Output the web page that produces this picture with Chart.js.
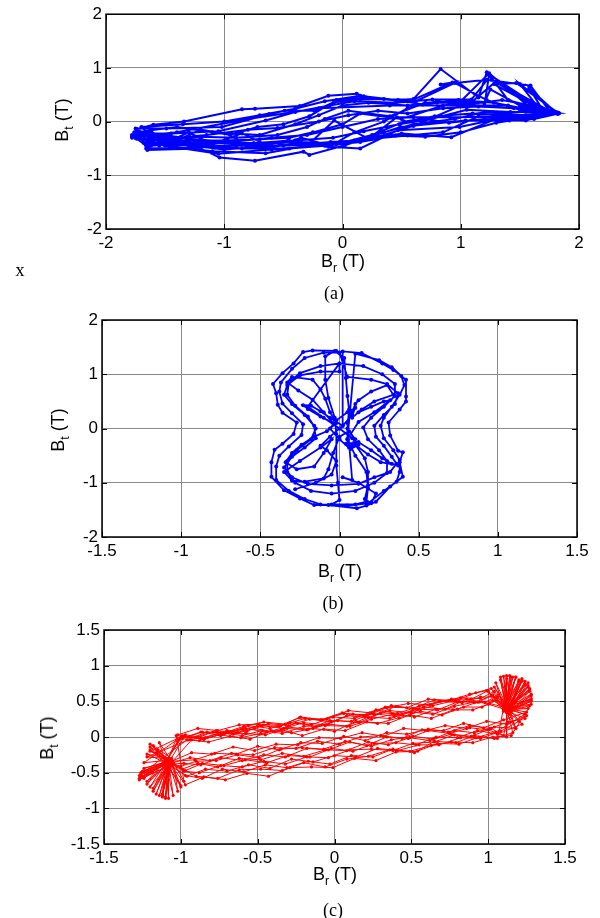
<!DOCTYPE html>
<html>
<head>
<meta charset="utf-8">
<script src="https://cdn.jsdelivr.net/npm/chart.js@4.4.0/dist/chart.umd.min.js"></script>
<style>
  body { margin: 0; background: #fff; width: 600px; height: 918px; position: relative; overflow: hidden; }
  .panel { position: absolute; left: 0; width: 600px; }
  .lbl { position: absolute; transform: translate(-50%, -50%); white-space: nowrap; color: #000;
         font-family: "Liberation Sans", Arial, sans-serif; font-size: 18px; line-height: 1; }
  .lbl sub { font-size: 12px; vertical-align: -5px; }
  .rot { transform: translate(-50%, -50%) rotate(-90deg); }
  .serif { font-family: "Liberation Serif", "Times New Roman", serif; font-size: 18px; }
</style>
</head>
<body>
<div class="panel" style="top:0;height:300px"><canvas id="chartA" width="600" height="300"></canvas></div>
<div class="panel" style="top:300px;height:310px"><canvas id="chartB" width="600" height="310"></canvas></div>
<div class="panel" style="top:610px;height:308px"><canvas id="chartC" width="600" height="308"></canvas></div>

<div class="lbl" style="left:343px;top:263px">B<sub>r</sub> (T)</div>
<div class="lbl rot" style="left:64px;top:120px">B<sub>t</sub> (T)</div>
<div class="lbl serif" style="left:20px;top:270px">x</div>
<div class="lbl serif" style="left:334px;top:293px">(a)</div>

<div class="lbl" style="left:340px;top:573px">B<sub>r</sub> (T)</div>
<div class="lbl rot" style="left:60px;top:430px">B<sub>t</sub> (T)</div>
<div class="lbl serif" style="left:333px;top:603px">(b)</div>

<div class="lbl" style="left:335px;top:876px">B<sub>r</sub> (T)</div>
<div class="lbl rot" style="left:49px;top:738px">B<sub>t</sub> (T)</div>
<div class="lbl serif" style="left:333px;top:910px">(c)</div>

<script>
// ---- data: [Br, Bt] samples ----
// (a)
const ticksA_x = [-2, -1, 0, 1, 2];
const ticksA_y = [-2, -1, 0, 1, 2];
const cycleA1 = [[-1.78,-0.30],[-1.74,-0.14],[-1.60,-0.06],[-1.34,0.00],[-0.85,0.23],[-0.74,0.24],[-0.36,0.29],[-0.12,0.48],[0.12,0.52],[0.18,0.47],[0.47,0.40],[0.60,0.42],[0.83,0.98],[1.15,0.45],[1.22,0.92],[1.30,0.70],[1.47,0.72],[1.83,0.15],[1.62,0.05],[1.41,0.02],[1.04,0.02],[0.49,-0.10],[0.23,-0.29],[0.02,-0.44],[-0.28,-0.62],[-0.33,-0.56],[-0.74,-0.73],[-1.04,-0.67],[-1.20,-0.50],[-1.65,-0.53]];
const cycleA2 = [[-1.75,-0.13],[-1.49,-0.13],[-1.02,-0.10],[-0.62,0.14],[-0.49,0.20],[-0.24,0.20],[-0.07,0.36],[0.15,0.42],[0.60,0.41],[0.93,0.73],[0.83,0.69],[1.22,0.78],[1.59,0.67],[1.76,0.17],[1.44,0.11],[0.99,-0.10],[0.47,-0.16],[0.15,-0.50],[-0.12,-0.47],[-0.46,-0.35],[-0.80,-0.42],[-1.20,-0.38],[-1.62,-0.45],[-1.70,-0.22]];
const cycleA3 = [[-1.45,-0.22],[-1.05,-0.18],[-0.65,0.02],[-0.40,0.18],[-0.11,0.30],[0.10,0.38],[0.45,0.35],[0.76,0.41],[1.09,0.41],[1.25,0.85],[1.40,0.40],[1.80,0.17],[1.62,0.10],[0.91,0.08],[0.46,0.08],[0.22,-0.32],[-0.07,0.02],[-0.30,-0.45],[-0.65,-0.59],[-1.10,-0.55],[-1.68,-0.40]];
const cycleA4 = [[-1.72,-0.25],[-1.50,-0.30],[-1.20,-0.28],[-0.90,-0.30],[-0.55,-0.25],[-0.30,-0.10],[-0.15,0.05],[0.05,0.20],[0.40,0.10],[0.70,0.35],[1.00,0.38],[1.24,0.90],[1.62,0.20],[1.78,0.18],[1.30,0.05],[0.92,-0.29],[0.50,-0.22],[0.30,-0.30],[0.00,-0.40],[-0.20,-0.42],[-0.60,-0.45],[-1.00,-0.52],[-1.38,-0.42],[-1.65,-0.38]];
const cycleA5 = [[-1.76,-0.20],[-1.40,-0.10],[-1.10,-0.20],[-0.70,-0.25],[-0.40,-0.05],[-0.20,0.12],[0.00,0.30],[0.22,0.35],[0.55,0.30],[0.80,0.35],[1.20,0.35],[1.25,0.60],[1.50,0.30],[1.83,0.16],[1.55,0.12],[1.20,0.18],[0.95,0.05],[0.60,-0.05],[0.35,-0.20],[0.10,-0.35],[-0.10,-0.38],[-0.50,-0.45],[-0.90,-0.45],[-1.30,-0.48],[-1.66,-0.50]];
const cycleA6 = [[-1.62,-0.30],[-1.30,-0.35],[-1.00,-0.35],[-0.70,-0.33],[-0.45,-0.30],[-0.25,-0.20],[0.00,-0.05],[0.15,0.15],[0.50,0.05],[0.85,0.30],[1.10,0.38],[1.30,0.75],[1.65,0.32],[1.75,0.20],[1.45,0.05],[1.15,0.10],[0.85,-0.20],[0.55,-0.26],[0.25,-0.32],[-0.05,-0.40],[-0.40,-0.38],[-0.78,-0.44],[-1.15,-0.45],[-1.58,-0.42],[-1.76,-0.28]];
const cycleA7 = [[-1.40,-0.20],[-0.80,0.05],[-0.20,0.25],[0.40,0.30],[1.00,0.30],[1.20,0.30],[1.24,0.88],[1.70,0.22],[1.26,0.78],[1.74,0.15],[1.28,0.70],[1.66,0.25],[1.50,0.70],[1.80,0.18],[1.58,0.62],[1.72,0.12],[1.40,0.30],[1.00,0.30],[0.60,-0.08],[0.30,-0.28],[-0.10,-0.42],[-0.60,-0.52],[-1.05,-0.60],[-1.50,-0.45],[-1.75,-0.30]];
const cycleA8 = [[-1.72,-0.18],[-1.55,-0.45],[-1.30,-0.20],[-1.10,-0.42],[-0.85,-0.22],[-0.60,-0.48],[-0.35,-0.30],[-0.10,-0.45],[0.10,-0.20],[0.35,0.00],[0.55,0.25],[0.80,0.38],[1.05,0.32],[1.35,0.40],[1.60,0.30],[1.82,0.17],[1.55,0.02],[1.20,0.05],[0.90,-0.02],[0.60,0.08],[0.30,0.05],[0.00,-0.10],[-0.30,-0.25],[-0.60,-0.30],[-0.95,-0.38],[-1.30,-0.32],[-1.65,-0.20]];
const cycleA9 = [[-1.78,-0.25],[-1.64,-0.48],[-1.62,-0.18],[-1.45,-0.40],[-1.20,-0.15],[-0.95,-0.25],[-0.72,-0.10],[-0.50,-0.05],[-0.28,0.10],[-0.05,0.40],[0.20,0.45],[0.52,0.38],[0.68,0.32],[0.98,0.40],[1.28,0.35],[1.52,0.25],[1.78,0.20],[1.60,0.08],[1.30,-0.02],[1.00,-0.20],[0.70,-0.28],[0.45,-0.26],[0.15,-0.38],[-0.15,-0.45],[-0.45,-0.50],[-0.85,-0.50],[-1.25,-0.40],[-1.60,-0.32]];
const cycleA10 = [[-1.70,-0.10],[-1.35,-0.05],[-1.00,0.00],[-0.70,0.12],[-0.40,0.24],[-0.15,0.38],[0.15,0.48],[0.35,0.42],[0.62,0.38],[0.95,0.72],[1.22,0.40],[1.50,0.22],[1.82,0.14],[1.48,0.10],[1.10,0.15],[0.78,0.10],[0.52,0.00],[0.25,-0.25],[-0.05,-0.42],[-0.35,-0.40],[-0.70,-0.50],[-1.08,-0.48],[-1.45,-0.36],[-1.74,-0.32]];
const cycleA11 = [[-1.66,-0.22],[-1.40,-0.30],[-1.15,-0.25],[-0.80,-0.15],[-0.55,-0.12],[-0.20,0.00],[0.05,0.12],[0.30,0.20],[0.55,0.15],[0.85,0.25],[1.15,0.28],[1.45,0.25],[1.75,0.18],[1.42,0.18],[1.05,0.22],[0.75,0.05],[0.48,-0.05],[0.18,-0.18],[-0.08,-0.30],[-0.40,-0.35],[-0.75,-0.40],[-1.10,-0.40],[-1.50,-0.38],[-1.78,-0.28]];

// (b)
const ticksB_x = [-1.5, -1, -0.5, 0, 0.5, 1, 1.5];
const ticksB_y = [-2, -1, 0, 1, 2];
const loopB1 = [[-0.02,1.43],[-0.17,1.44],[-0.23,1.41],[-0.29,1.20],[-0.36,1.02],[-0.42,0.82],[-0.40,0.65],[-0.39,0.44],[-0.36,0.29],[-0.27,0.11],[-0.29,-0.10],[-0.36,-0.28],[-0.41,-0.39],[-0.43,-0.62],[-0.43,-0.89],[-0.35,-1.14],[-0.25,-1.29],[-0.16,-1.41],[-0.07,-1.41],[0.11,-1.47],[0.17,-1.42],[0.23,-1.35],[0.32,-1.07],[0.40,-0.89],[0.38,-0.62],[0.40,-0.44],[0.37,-0.41],[0.32,-0.13],[0.31,0.11],[0.38,0.35],[0.42,0.50],[0.42,0.59],[0.42,0.90],[0.34,1.08],[0.27,1.20],[0.14,1.39],[0.02,1.42]];
const loopB2 = [[0.02,0.05],[-0.06,0.20],[-0.12,0.32],[-0.18,0.42],[-0.23,0.43],[-0.20,0.36],[-0.12,0.22],[-0.04,0.10],[-0.10,0.30],[-0.17,0.53],[-0.26,0.70],[-0.33,0.85],[-0.30,0.95],[-0.17,0.90],[-0.12,0.72],[-0.09,0.55],[-0.06,0.30],[-0.02,0.10]];
const loopB3 = [[-0.08,-0.05],[-0.16,-0.15],[-0.24,-0.30],[-0.30,-0.45],[-0.34,-0.62],[-0.27,-0.75],[-0.16,-0.70],[-0.10,-0.45],[-0.05,-0.20],[-0.12,-0.35],[-0.25,-0.60],[-0.35,-0.80],[-0.30,-0.96],[-0.22,-0.98],[-0.10,-0.92],[-0.07,-0.75],[-0.04,-0.45],[0.00,-0.15]];
const loopB4 = [[0.06,-0.05],[0.10,-0.20],[0.08,-0.32],[0.06,-0.35],[0.04,-0.28],[0.12,-0.25],[0.20,-0.40],[0.27,-0.55],[0.33,-0.65],[0.37,-0.68],[0.26,-0.62],[0.18,-0.48],[0.10,-0.30],[0.16,-0.55],[0.18,-0.80],[0.18,-1.05],[0.16,-1.30],[0.20,-1.38],[0.23,-1.20],[0.12,-1.00],[0.02,-0.90],[0.08,-0.95]];
const loopB5 = [[0.05,0.10],[0.08,0.30],[0.10,0.45],[0.12,0.52],[0.20,0.68],[0.30,0.80],[0.34,0.62],[0.22,0.50],[0.14,0.35],[0.08,0.20],[0.12,0.30],[0.20,0.40],[0.28,0.50],[0.32,0.52],[0.22,0.30],[0.12,0.12],[0.05,-0.20],[0.05,-0.30]];
const loopB6 = [[0.05,0.00],[0.06,0.35],[0.05,0.60],[0.04,0.93],[0.03,1.30],[-0.03,1.43],[-0.09,1.33],[-0.09,0.90],[-0.07,0.56],[-0.03,0.20],[-0.02,-0.10],[-0.02,-0.68],[-0.01,-1.00],[0.00,-1.32],[-0.05,-1.40],[0.10,-1.40],[0.17,-1.35],[0.18,-1.10],[0.17,-0.80],[0.10,-0.50],[0.05,-0.20]];
const loopB7 = [[0.10,1.38],[0.25,1.26],[0.33,1.13],[0.39,0.97],[0.41,0.80],[0.38,0.62],[0.33,0.40],[0.28,0.20],[0.26,0.05],[0.28,-0.18],[0.34,-0.40],[0.38,-0.58],[0.38,-0.80],[0.36,-0.98],[0.28,-1.15],[0.18,-1.38],[0.05,-1.42],[-0.12,-1.40],[-0.22,-1.30],[-0.32,-1.15],[-0.40,-0.95],[-0.40,-0.70],[-0.38,-0.50],[-0.32,-0.33],[-0.24,-0.12],[-0.23,0.08],[-0.30,0.28],[-0.36,0.46],[-0.38,0.68],[-0.37,0.85],[-0.30,1.10],[-0.22,1.30],[-0.10,1.40],[0.00,1.40]];
const loopB8 = [[0.05,0.95],[0.20,0.90],[0.30,0.82],[0.37,0.65],[0.35,0.45],[0.28,0.25],[0.22,0.05],[0.23,-0.15],[0.28,-0.32],[0.33,-0.52],[0.36,-0.65],[0.32,-0.80],[0.22,-0.90],[0.12,-1.02],[-0.05,-1.05],[-0.20,-1.02],[-0.30,-0.90],[-0.35,-0.72],[-0.30,-0.52],[-0.22,-0.35],[-0.15,-0.18],[-0.16,0.05],[-0.22,0.25],[-0.30,0.45],[-0.35,0.62],[-0.33,0.80],[-0.25,0.98],[-0.12,1.05],[0.00,1.05]];
const loopB9 = [[0.00,1.20],[0.15,1.15],[0.27,1.00],[0.35,0.82],[0.35,0.60],[0.28,0.40],[0.20,0.20],[0.15,0.02],[0.18,-0.20],[0.25,-0.40],[0.30,-0.60],[0.30,-0.82],[0.22,-1.00],[0.10,-1.15],[-0.05,-1.20],[-0.18,-1.15],[-0.28,-1.00],[-0.33,-0.80],[-0.33,-0.60],[-0.27,-0.40],[-0.18,-0.20],[-0.15,0.00],[-0.20,0.22],[-0.28,0.42],[-0.33,0.62],[-0.32,0.85],[-0.25,1.02],[-0.12,1.15],[0.00,1.20]];
const loopB10 = [[-0.20,0.40],[-0.10,0.20],[0.00,0.00],[0.08,-0.18],[0.12,-0.30],[0.07,-0.38],[0.00,-0.20],[-0.06,0.00],[-0.02,0.15],[0.05,0.30],[0.10,0.38],[0.08,0.25],[0.02,0.05],[-0.06,-0.15],[-0.12,-0.32],[-0.08,-0.40],[-0.02,-0.60],[-0.05,-0.85],[-0.15,-1.00],[-0.28,-1.12]];

// (c) each cycle: upper branch -> right tip -> lower branch -> left tip
const ticksC_x = [-1.5, -1, -0.5, 0, 0.5, 1, 1.5];
const ticksC_y = [-1.5, -1, -0.5, 0, 0.5, 1, 1.5];
const cycleC1 = [[-0.98,0.01],[-0.85,-0.03],[-0.71,0.06],[-0.58,0.12],[-0.44,0.07],[-0.31,0.14],[-0.17,0.11],[-0.03,0.23],[0.11,0.22],[0.25,0.33],[0.39,0.29],[0.53,0.39],[0.67,0.38],[0.81,0.50],[0.94,0.49],[1.03,0.59],
    [1.12,0.40],[1.10,0.85],[1.14,0.38],[1.26,0.76],[1.10,0.42],[1.28,0.52],[1.15,0.36],[1.22,0.18],
    [1.06,0.04],[0.93,0.09],[0.80,-0.01],[0.66,0.00],[0.53,-0.11],[0.40,-0.08],[0.26,-0.09],[0.12,-0.20],[-0.02,-0.16],[-0.16,-0.28],[-0.30,-0.26],[-0.44,-0.36],[-0.58,-0.32],[-0.72,-0.40],[-0.86,-0.37],[-0.97,-0.47],
    [-1.08,-0.35],[-1.10,-0.84],[-1.06,-0.32],[-1.25,-0.55],[-1.10,-0.38],[-1.20,-0.14],[-1.08,-0.30]];
const cycleC2 = [[-1.02,0.03],[-0.89,0.12],[-0.76,0.09],[-0.62,0.17],[-0.49,0.18],[-0.35,0.16],[-0.22,0.28],[-0.08,0.24],[0.06,0.33],[0.20,0.29],[0.34,0.41],[0.48,0.47],[0.62,0.45],[0.76,0.53],[0.89,0.53],[1.00,0.65],
    [1.10,0.36],[1.15,0.84],[1.12,0.42],[1.20,0.80],[1.14,0.34],[1.27,0.64],[1.12,0.40],[1.25,0.35],
    [1.10,0.24],[0.97,0.13],[0.84,0.19],[0.71,0.09],[0.57,0.10],[0.44,-0.02],[0.30,0.02],[0.17,0.00],[0.03,-0.10],[-0.11,-0.06],[-0.25,-0.16],[-0.39,-0.15],[-0.53,-0.25],[-0.67,-0.23],[-0.81,-0.33],[-0.94,-0.29],
    [-1.05,-0.36],[-1.02,-0.76],[-1.08,-0.34],[-1.27,-0.58],[-1.06,-0.40],[-1.15,-0.18],[-1.10,-0.30],[-1.22,-0.28]];
const cycleC3 = [[-0.95,-0.04],[-0.82,-0.07],[-0.68,0.01],[-0.55,-0.03],[-0.41,0.09],[-0.28,0.06],[-0.14,0.12],[0.00,0.08],[0.14,0.22],[0.28,0.19],[0.42,0.27],[0.56,0.36],[0.70,0.31],[0.84,0.42],[0.96,0.42],[1.05,0.51],
    [1.12,0.44],[1.05,0.76],[1.10,0.40],[1.18,0.84],[1.12,0.38],[1.26,0.70],[1.14,0.42],[1.28,0.46],
    [1.15,0.02],[1.03,0.00],[0.90,-0.08],[0.76,-0.07],[0.63,-0.12],[0.49,-0.20],[0.36,-0.18],[0.22,-0.27],[0.08,-0.31],[-0.06,-0.42],[-0.20,-0.36],[-0.34,-0.47],[-0.48,-0.45],[-0.62,-0.46],[-0.76,-0.58],[-0.90,-0.55],
    [-1.10,-0.32],[-1.22,-0.66],[-1.08,-0.36],[-1.18,-0.76],[-1.06,-0.33],[-1.24,-0.44],[-1.10,-0.35],[-1.02,-0.06]];
const cycleC4 = [[-0.99,-0.02],[-0.86,0.07],[-0.73,0.05],[-0.59,0.15],[-0.46,0.21],[-0.32,0.18],[-0.19,0.26],[-0.05,0.25],[0.09,0.37],[0.23,0.34],[0.37,0.44],[0.51,0.40],[0.65,0.52],[0.79,0.51],[0.92,0.62],[1.02,0.68],
    [1.10,0.40],[1.12,0.82],[1.16,0.40],[1.24,0.78],[1.12,0.36],[1.28,0.58],[1.14,0.32],[1.18,0.12],
    [1.04,0.14],[0.91,0.06],[0.78,0.09],[0.64,-0.03],[0.51,0.01],[0.37,-0.04],[0.24,-0.13],[0.10,-0.07],[-0.04,-0.18],[-0.18,-0.16],[-0.32,-0.28],[-0.46,-0.25],[-0.60,-0.33],[-0.74,-0.29],[-0.87,-0.39],[-0.98,-0.37],
    [-1.08,-0.38],[-1.08,-0.86],[-1.10,-0.34],[-1.00,-0.70],[-1.06,-0.36],[-1.26,-0.50],[-1.08,-0.32],[-1.20,-0.20]];
const cycleC5 = [[-1.00,0.00],[-0.87,-0.02],[-0.74,0.06],[-0.60,0.02],[-0.47,0.09],[-0.34,0.05],[-0.20,0.15],[-0.06,0.16],[0.08,0.15],[0.22,0.28],[0.36,0.26],[0.50,0.35],[0.64,0.32],[0.78,0.43],[0.91,0.49],[1.01,0.47],
    [1.10,0.42],[1.00,0.64],[1.12,0.40],[1.14,0.86],[1.12,0.38],[1.22,0.80],[1.14,0.40],[1.25,0.30],
    [1.12,0.18],[0.99,0.22],[0.86,0.12],[0.72,0.16],[0.59,0.09],[0.45,0.12],[0.32,0.01],[0.18,0.06],[0.04,-0.02],[-0.10,-0.01],[-0.24,-0.11],[-0.38,-0.10],[-0.52,-0.19],[-0.66,-0.14],[-0.80,-0.24],[-0.93,-0.22],
    [-1.06,-0.34],[-1.12,-0.80],[-1.08,-0.38],[-1.22,-0.62],[-1.10,-0.32],[-1.20,-0.10],[-1.06,-0.36],[-1.27,-0.54]];
const cycleC6 = [[-0.96,-0.04],[-0.83,0.07],[-0.69,0.06],[-0.56,0.16],[-0.42,0.12],[-0.29,0.20],[-0.15,0.17],[-0.01,0.28],[0.13,0.26],[0.27,0.38],[0.41,0.33],[0.55,0.43],[0.69,0.50],[0.83,0.48],[0.95,0.56],[1.06,0.56],
    [1.12,0.40],[1.08,0.80],[1.12,0.36],[1.27,0.68],[1.14,0.42],[1.26,0.40],[1.12,0.38],[1.20,0.22],
    [1.08,0.08],[0.95,-0.02],[0.82,-0.01],[0.68,-0.11],[0.55,-0.11],[0.41,-0.19],[0.28,-0.16],[0.14,-0.28],[0.00,-0.26],[-0.14,-0.35],[-0.28,-0.31],[-0.42,-0.44],[-0.56,-0.39],[-0.70,-0.48],[-0.84,-0.45],[-0.96,-0.55],
    [-1.10,-0.36],[-1.05,-0.82],[-1.08,-0.34],[-1.27,-0.60],[-1.06,-0.38],[-1.16,-0.22],[-1.10,-0.33],[-1.24,-0.36]];
const cycleC7 = [[-1.01,-0.02],[-0.88,-0.05],[-0.75,0.03],[-0.61,-0.01],[-0.48,0.05],[-0.34,0.10],[-0.21,0.02],[-0.07,0.11],[0.07,0.09],[0.21,0.21],[0.35,0.19],[0.49,0.31],[0.63,0.26],[0.77,0.38],[0.90,0.38],[1.00,0.46],
    [1.12,0.38],[1.16,0.84],[1.10,0.42],[1.20,0.78],[1.14,0.40],[1.28,0.54],[1.12,0.34],[1.12,0.00],
    [1.00,0.10],[0.88,0.13],[0.75,0.05],[0.61,0.09],[0.48,-0.02],[0.34,0.00],[0.21,-0.12],[0.07,-0.06],[-0.07,-0.17],[-0.21,-0.15],[-0.35,-0.17],[-0.49,-0.29],[-0.63,-0.25],[-0.77,-0.33],[-0.90,-0.34],[-1.00,-0.41],
    [-1.08,-0.36],[-1.14,-0.82],[-1.06,-0.34],[-1.25,-0.48],[-1.10,-0.36],[-1.22,-0.24],[-1.08,-0.30],[-1.18,-0.72]];
const cycleC8 = [[-0.97,0.03],[-0.84,-0.01],[-0.70,0.09],[-0.57,0.08],[-0.43,0.19],[-0.30,0.16],[-0.16,0.25],[-0.02,0.21],[0.12,0.32],[0.26,0.31],[0.40,0.43],[0.54,0.39],[0.68,0.50],[0.82,0.55],[0.95,0.54],[1.04,0.64],
    [1.12,0.42],[1.24,0.74],[1.14,0.38],[1.18,0.12],[1.10,0.40],[1.06,-0.02],
    [0.94,0.00],[0.81,-0.10],[0.67,-0.09],[0.54,-0.20],[0.40,-0.21],[0.27,-0.33],[0.13,-0.30],[-0.01,-0.43],[-0.15,-0.42],[-0.29,-0.43],[-0.43,-0.55],[-0.57,-0.51],[-0.71,-0.60],[-0.85,-0.56],[-0.97,-0.67],
    [-1.08,-0.34],[-1.00,-0.68],[-1.10,-0.36],[-1.20,-0.70]];
const cycleC9 = [[-0.93,-0.04],[-0.79,0.07],[-0.66,0.04],[-0.52,0.12],[-0.39,0.07],[-0.25,0.20],[-0.12,0.14],[0.02,0.23],[0.16,0.20],[0.30,0.34],[0.44,0.32],[0.58,0.42],[0.72,0.39],[0.86,0.53],[0.98,0.48],[1.07,0.60],
    [1.12,0.40],[1.04,0.70],[1.12,0.44],[1.22,0.82],[1.14,0.36],[1.28,0.60],[1.10,0.38],[1.24,0.26],
    [1.13,0.21],[1.01,0.12],[0.88,0.16],[0.74,0.07],[0.61,0.11],[0.47,0.04],[0.34,0.06],[0.20,-0.05],[0.06,0.01],[-0.08,-0.09],[-0.22,-0.08],[-0.36,-0.18],[-0.50,-0.13],[-0.64,-0.24],[-0.78,-0.23],[-0.91,-0.32],
    [-1.06,-0.34],[-1.10,-0.86],[-1.08,-0.32],[-1.24,-0.58],[-1.10,-0.36],[-1.18,-0.12],[-1.06,-0.30],[-0.98,-0.62]];
const cycleC10 = [[-1.03,0.02],[-0.90,0.00],[-0.77,0.09],[-0.63,0.06],[-0.50,0.16],[-0.36,0.15],[-0.23,0.27],[-0.09,0.24],[0.05,0.34],[0.19,0.30],[0.33,0.42],[0.47,0.41],[0.61,0.53],[0.75,0.51],[0.88,0.60],[0.99,0.65],
    [1.10,0.40],[1.12,0.86],[1.12,0.40],[1.26,0.72],[1.14,0.36],[1.27,0.44],[1.12,0.42],[1.16,0.06],
    [1.04,-0.02],[0.91,0.02],[0.79,-0.08],[0.65,-0.06],[0.52,-0.22],[0.38,-0.17],[0.25,-0.28],[0.11,-0.26],[-0.03,-0.38],[-0.17,-0.34],[-0.31,-0.43],[-0.45,-0.39],[-0.59,-0.49],[-0.73,-0.45],[-0.86,-0.58],[-0.97,-0.54],
    [-1.08,-0.36],[-1.12,-0.84],[-1.08,-0.38],[-1.26,-0.52],[-1.08,-0.34],[-1.20,-0.18],[-1.10,-0.36]];
const cycleC11 = [[-0.99,0.02],[-0.85,-0.03],[-0.72,0.05],[-0.58,0.05],[-0.45,0.03],[-0.31,0.12],[-0.18,0.10],[-0.04,0.18],[0.10,0.15],[0.24,0.25],[0.38,0.32],[0.52,0.28],[0.66,0.39],[0.80,0.39],[0.93,0.49],[1.03,0.51],
    [1.12,0.40],[1.08,0.84],[1.14,0.40],[1.22,0.78],[1.12,0.36],[1.28,0.50],[1.14,0.38],[1.10,0.02],
    [1.02,0.12],[0.89,0.01],[0.76,0.04],[0.62,-0.05],[0.49,-0.01],[0.35,-0.11],[0.22,-0.07],[0.08,-0.19],[-0.06,-0.18],[-0.20,-0.27],[-0.34,-0.23],[-0.48,-0.32],[-0.62,-0.30],[-0.76,-0.42],[-0.89,-0.37],[-0.99,-0.45],
    [-1.08,-0.34],[-1.16,-0.80],[-1.08,-0.36],[-1.26,-0.56],[-1.06,-0.34],[-1.14,-0.08],[-1.10,-0.36]];
const cycleC12 = [[-1.01,-0.03],[-0.87,0.07],[-0.74,0.02],[-0.60,0.11],[-0.47,0.16],[-0.33,0.12],[-0.20,0.20],[-0.06,0.17],[0.08,0.30],[0.22,0.27],[0.36,0.37],[0.50,0.34],[0.64,0.44],[0.78,0.51],[0.91,0.48],[1.02,0.58],
    [1.12,0.42],[1.18,0.84],[1.12,0.38],[1.27,0.66],[1.10,0.40],[1.24,0.32],
    [1.05,0.07],[0.92,-0.01],[0.78,0.03],[0.65,-0.07],[0.51,-0.09],[0.38,-0.19],[0.24,-0.17],[0.10,-0.18],[-0.04,-0.29],[-0.18,-0.28],[-0.32,-0.38],[-0.46,-0.34],[-0.60,-0.42],[-0.74,-0.40],[-0.88,-0.50],[-0.98,-0.48],
    [-1.08,-0.35],[-1.12,-0.82],[-1.10,-0.34]];

const pathA = [cycleA1, cycleA2, cycleA3, cycleA4, cycleA5, cycleA6, cycleA7, cycleA8, cycleA9, cycleA10, cycleA11];
const pathB = [loopB1, loopB2, loopB3, loopB4, loopB5, loopB6, loopB7, loopB8, loopB9, loopB10];
const pathC = [cycleC1, cycleC2, cycleC3, cycleC4, cycleC5, cycleC6, cycleC7, cycleC8, cycleC9, cycleC10, cycleC11, cycleC12];

// Axes box + inward ticks, MATLAB style
const boxFrame = {
    id: 'boxFrame',
    afterDraw(chart) {
        const { ctx, chartArea: a, scales } = chart;
        ctx.save();
        ctx.strokeStyle = '#000';
        ctx.lineWidth = 1;
        scales.x.ticks.forEach(t => {
            const px = Math.round(scales.x.getPixelForValue(t.value)) + 0.5;
            ctx.beginPath();
            ctx.moveTo(px, a.bottom); ctx.lineTo(px, a.bottom - 5);
            ctx.moveTo(px, a.top); ctx.lineTo(px, a.top + 5);
            ctx.stroke();
        });
        scales.y.ticks.forEach(t => {
            const py = Math.round(scales.y.getPixelForValue(t.value)) + 0.5;
            ctx.beginPath();
            ctx.moveTo(a.left, py); ctx.lineTo(a.left + 5, py);
            ctx.moveTo(a.right, py); ctx.lineTo(a.right - 5, py);
            ctx.stroke();
        });
        ctx.lineWidth = 1.5;
        ctx.strokeRect(a.left, a.top, a.right - a.left, a.bottom - a.top);
        ctx.restore();
    }
};

function makeChart(id, cycles, color, xr, yr, xt, yt, pad, lw, pr) {
    const pts = [].concat(...cycles).map(p => ({ x: p[0], y: p[1] }));
    const tickFont = { family: '"Liberation Sans", Arial, sans-serif', size: 17 };
    return new Chart(document.getElementById(id).getContext('2d'), {
        type: 'scatter',
        data: {
            datasets: [{
                data: pts,
                showLine: true,
                borderColor: color,
                backgroundColor: color,
                borderWidth: lw,
                pointRadius: pr,
                pointBorderWidth: 0,
                pointBackgroundColor: color
            }]
        },
        options: {
            responsive: false,
            animation: false,
            layout: { padding: pad },
            plugins: { legend: { display: false }, tooltip: { enabled: false } },
            scales: {
                x: {
                    type: 'linear', min: xr[0], max: xr[1],
                    afterBuildTicks: s => { s.ticks = xt.map(v => ({ value: v })); },
                    afterFit: s => { s.height = 30; },
                    grid: { color: '#8a8a8a', lineWidth: 1, drawTicks: false },
                    border: { display: false },
                    ticks: { color: '#000', font: tickFont, padding: 4, maxRotation: 0, autoSkip: false,
                             callback: v => String(v) }
                },
                y: {
                    type: 'linear', min: yr[0], max: yr[1],
                    afterBuildTicks: s => { s.ticks = yt.map(v => ({ value: v })); },
                    afterFit: s => { s.width = 40; },
                    grid: { color: '#8a8a8a', lineWidth: 1, drawTicks: false },
                    border: { display: false },
                    ticks: { color: '#000', font: tickFont, padding: 4, autoSkip: false,
                             callback: v => String(v) }
                }
            }
        },
        plugins: [boxFrame]
    });
}

makeChart('chartA', pathA, '#0000ff', [-2, 2], [-2, 2], ticksA_x, ticksA_y,
    { left: 66, right: 21, top: 10, bottom: 41 }, 2, 2);
makeChart('chartB', pathB, '#0000ff', [-1.5, 1.5], [-2, 2], ticksB_x, ticksB_y,
    { left: 62, right: 23, top: 20, bottom: 43 }, 1.8, 2);
makeChart('chartC', pathC, '#ff0000', [-1.5, 1.5], [-1.5, 1.5], ticksC_x, ticksC_y,
    { left: 64, right: 35, top: 20, bottom: 44 }, 1, 1.6);
</script>
</body>
</html>
